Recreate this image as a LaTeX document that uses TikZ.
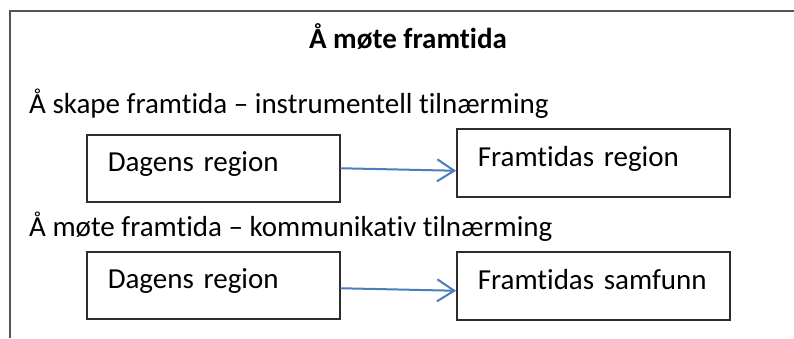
\documentclass[tikz,border=0pt]{standalone}
\usepackage{fontspec}
\setmainfont{Carlito}[Ligatures={NoCommon}]
\usetikzlibrary{arrows.meta}
\definecolor{framegray}{RGB}{85,85,85}
\definecolor{boxgray}{RGB}{45,45,45}
\definecolor{arrowblue}{RGB}{74,126,187}
\tikzset{
  regionbox/.style={draw=boxgray, line width=1.5pt, rectangle, anchor=north west,
    minimum width=253pt, minimum height=67pt, inner xsep=21pt, inner ysep=0pt,
    text width=211pt, align=left, text height=15pt, text depth=8pt,
    font=\fontsize{29}{35}\selectfont},
  widebox/.style={regionbox, minimum width=273pt, text width=231pt, minimum height=68pt},
  bigtext/.style={inner sep=0pt, anchor=base west, font=\fontsize{29}{35}\selectfont},
  flowarrow/.style={draw=arrowblue, line width=2pt,
    -{Straight Barb[length=17pt, width=22pt, line width=2pt]}}
}
\begin{document}
\begin{tikzpicture}[x=1pt, y=-1pt]
\useasboundingbox (0,0) rectangle (794,338);
\draw[draw=framegray, line width=1.8pt] (10,338) -- (10,11) -- (794,11);
\node[bigtext, anchor=base, font=\fontsize{29}{35}\selectfont\bfseries] (title) at (408,48) {Å møte framtida};
\node[bigtext] (line1) at (29,113) {Å skape framtida – instrumentell tilnærming};
\node[bigtext] (line2) at (29,236) {Å møte framtida – kommunikativ tilnærming};
\node[regionbox] (b1) at (86,134) {Dagens region};
\node[widebox] (b2) at (456,128) {Framtidas region};
\node[regionbox] (b3) at (86,251) {Dagens region};
\node[widebox, minimum height=68pt] (b4) at (456,251) {Framtidas samfunn};
\draw[flowarrow] (b1.east) -- ([yshift=-8pt]b2.west);
\draw[flowarrow] ([yshift=-3pt]b3.east) -- ([yshift=-5pt]b4.west);
\end{tikzpicture}
\end{document}
